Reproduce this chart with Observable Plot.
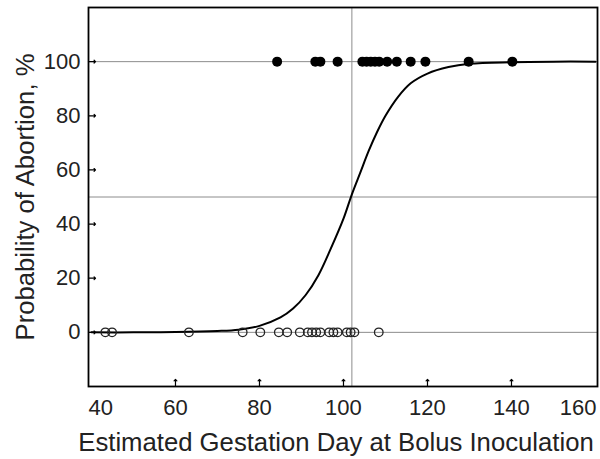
<!DOCTYPE html>
<html>
<head>
<meta charset="utf-8">
<script src="https://cdn.jsdelivr.net/npm/d3@7"></script>
<script src="https://cdn.jsdelivr.net/npm/@observablehq/plot@0.6"></script>
<style>
  html, body { margin: 0; padding: 0; background: #fff; }
  #chart svg { display: block; }
</style>
</head>
<body>
<div id="chart"></div>
<script>
// Aborted (100 %) — estimated gestation day at inoculation
const abortedDays = [84.2, 93.3, 94.5, 98.6, 104.5, 105.5, 106.5, 107.5, 108.5, 110.4, 112.7, 116, 119.5, 129.8, 140.2];
// Not aborted (0 %)
const notAbortedDays = [43.3, 44.9, 63.2, 76, 80.2, 84.6, 86.6, 89.6, 91.5, 92.5, 93.5, 94.5, 96.6, 97.6, 98.6, 100.8, 101.7, 102.6, 108.4];
// Fitted probability curve
const curveDay = [40, 50, 60, 70, 75, 80, 85, 88, 91, 94, 97, 100, 102, 104, 106, 108, 110, 113, 116, 120, 125, 130, 140, 150, 160];
const curveProb = [0, 0, 0.1, 0.5, 1, 2.4, 5.5, 8.8, 13.8, 21, 31, 42, 51, 59, 67, 74, 80, 87, 92, 95.6, 98, 99.2, 99.8, 100, 100];
// Reference lines
const refDay = [102];
const refProb = [0, 50, 100];
// Ticks
const xTicks = [40, 60, 80, 100, 120, 140, 160];
const yTicks = [0, 20, 40, 60, 80, 100];
const xLabel = "Estimated Gestation Day at Bolus Inoculation";
const yLabel = "Probability of Abortion, %";

const curve = curveDay.map((d, i) => ({day: d, prob: curveProb[i]}));
const xFirst = xTicks[0], xLast = xTicks[xTicks.length - 1];
const xInner = xTicks.slice(1, -1);

const chart = Plot.plot({
  width: 600,
  height: 459,
  marginLeft: 88,
  marginRight: 3,
  marginTop: 7,
  marginBottom: 73,
  style: {fontFamily: "'Liberation Sans', Arial, sans-serif", fontSize: "22px", color: "#222", background: "#fff"},
  x: {domain: [39.29, 160.48]},
  y: {domain: [-20, 120]},
  marks: [
    Plot.ruleY(refProb, {stroke: "#8c8c8c", strokeWidth: 1}),
    Plot.ruleX(refDay, {stroke: "#8c8c8c", strokeWidth: 1}),
    Plot.line(curve, {x: "day", y: "prob", curve: "catmull-rom", stroke: "#000", strokeWidth: 2}),
    Plot.dot(notAbortedDays, {x: d => d, y: () => 0, r: 4.3, stroke: "#222", strokeWidth: 1.3, fill: "none"}),
    Plot.dot(abortedDays, {x: d => d, y: () => 100, r: 5, fill: "#000", stroke: "none"}),
    Plot.vector(xInner, {x: d => d, frameAnchor: "bottom", anchor: "start", length: 7, rotate: 0, stroke: "#000", strokeWidth: 1.2}),
    Plot.vector(yTicks, {y: d => d, frameAnchor: "left", anchor: "start", length: 7, rotate: 90, stroke: "#000", strokeWidth: 1.2}),
    Plot.axisX(xInner, {tickSize: 0, tickPadding: 13, label: null, fontSize: 22, fill: "#222"}),
    Plot.text([xFirst], {x: d => d, frameAnchor: "bottom", text: d => String(d), textAnchor: "start", lineAnchor: "top", dx: -3, dy: 13, fontSize: 22, fill: "#222"}),
    Plot.text([xLast], {x: d => d, frameAnchor: "bottom", text: d => String(d), textAnchor: "end", lineAnchor: "top", dx: 1, dy: 13, fontSize: 22, fill: "#222"}),
    Plot.axisY(yTicks, {tickSize: 0, tickPadding: 8, label: null, fontSize: 22, fill: "#222"}),
    Plot.text([xLabel], {frameAnchor: "bottom", dx: -7, dy: 64, fontSize: 25.7, fill: "#222"}),
    Plot.text([yLabel], {frameAnchor: "left", textAnchor: "middle", lineAnchor: "middle", dx: -63, rotate: -90, fontSize: 25.7, fill: "#222"}),
    Plot.frame({stroke: "#000", strokeWidth: 1.8})
  ]
});
document.getElementById("chart").append(chart);
</script>
</body>
</html>
